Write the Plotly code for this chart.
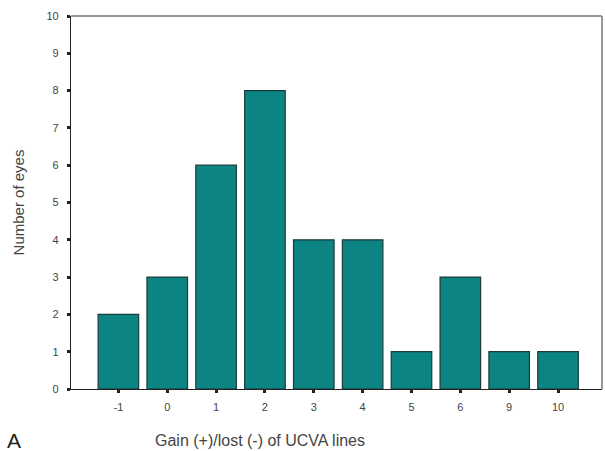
import plotly.graph_objects as go

categories = ["-1", "0", "1", "2", "3", "4", "5", "6", "9", "10"]
counts = [2, 3, 6, 8, 4, 4, 1, 3, 1, 1]
y_ticks = list(range(0, 11))

fig = go.Figure(go.Bar(
    x=categories, y=counts,
    marker=dict(color="#0c8484", line=dict(color="#1b3b3b", width=1.2)),
    width=0.83,
))

fig.update_layout(
    width=605, height=451,
    margin=dict(l=71, r=3, t=16, b=62),
    paper_bgcolor="white", plot_bgcolor="white",
    font=dict(family="Liberation Sans, Arial, sans-serif", color="#333333", size=11),
    showlegend=False,
    xaxis=dict(
        type="category", range=[-0.97, 9.9],
        showline=True, linecolor="#222222", linewidth=1.2, mirror=False,
        ticks="outside", ticklen=3, tickwidth=3, tickcolor="#222222",
        ticklabelstandoff=5,
        tickfont=dict(size=11, color="#444444"),
        automargin=False, showgrid=False,
    ),
    yaxis=dict(
        range=[0, 10], tickvals=y_ticks,
        showline=True, linecolor="#222222", linewidth=1.2,
        ticks="outside", ticklen=3, tickwidth=3, tickcolor="#222222",
        ticklabelstandoff=6,
        tickfont=dict(size=11, color="#444444"),
        title=dict(text="Number of eyes", font=dict(size=15, color="#444444"), standoff=18),
        automargin=False, showgrid=False, zeroline=False,
    ),
    shapes=[
        dict(type="line", xref="paper", yref="paper", x0=0, x1=1, y0=1, y1=1,
             line=dict(color="#777777", width=1.5)),
        dict(type="line", xref="paper", yref="paper", x0=1, x1=1, y0=0, y1=1,
             line=dict(color="#777777", width=1.5)),
    ],
    annotations=[
        dict(text="A", xref="paper", yref="paper", x=-0.125, y=-0.137,
             xanchor="left", yanchor="middle", showarrow=False,
             font=dict(size=21, color="#222222")),
        dict(text="Gain (+)/lost (-) of UCVA lines", xref="paper", yref="paper",
             x=0.356, y=-0.137, xanchor="center", yanchor="middle", showarrow=False,
             font=dict(size=16, color="#444444")),
    ],
)

fig.write_html("out.html")
